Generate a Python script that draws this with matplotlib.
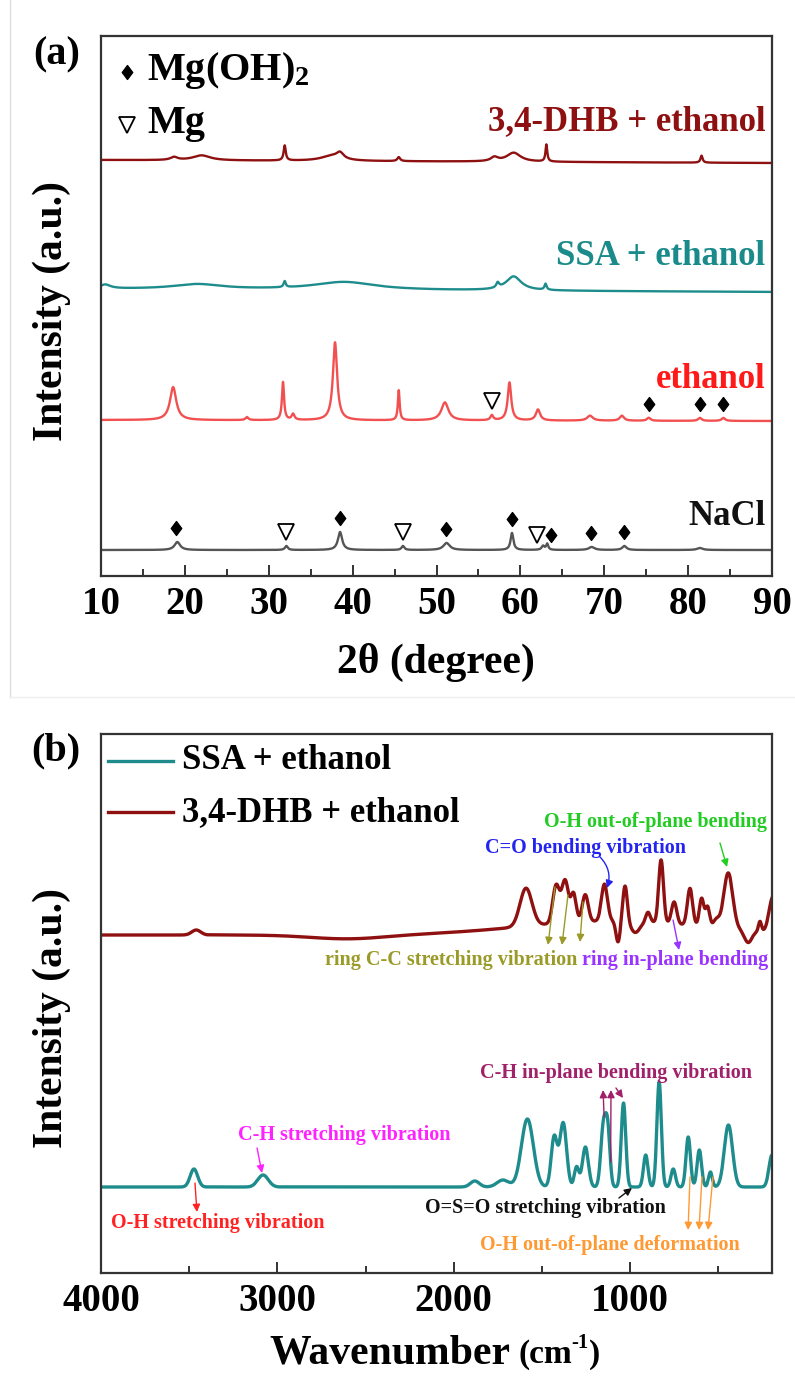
import numpy as np
import matplotlib
matplotlib.use("Agg")
import matplotlib.pyplot as plt
from matplotlib.path import Path
from matplotlib.lines import Line2D

plt.rcParams.update({
    "font.family": ["Liberation Serif", "DejaVu Serif"],
    "font.weight": "bold",
    "mathtext.fontset": "custom",
    "mathtext.rm": "Liberation Serif:bold",
    "mathtext.bf": "Liberation Serif:bold",
    "mathtext.it": "Liberation Serif:italic:bold",
})

# ---------------- XRD data: (2theta, height, FWHM) per reflection ----------------
xrd_dhb_peaks = [(18.7, 3, 1.0), (22.0, 5, 2.5), (31.9, 15, 0.3), (37.5, 5, 3.0),
                 (38.5, 6, 1.0), (45.5, 4, 0.4), (56.9, 4, 1.0), (59.2, 9, 2.0),
                 (63.1, 17, 0.25), (81.6, 7, 0.3)]
xrd_ssa_peaks = [(10.5, 4, 1.5), (21.5, 5, 7.0), (31.9, 6, 0.3), (39.0, 8, 9.0),
                 (57.3, 5, 0.4), (59.2, 14, 2.2), (63.0, 6, 0.3)]
xrd_ethanol_peaks = [(18.6, 33, 0.9), (27.4, 3, 0.4), (31.7, 38, 0.3), (32.9, 6, 0.4),
                     (37.9, 78, 0.6), (45.5, 30, 0.25), (51.0, 18, 1.0), (56.6, 5, 0.4),
                     (58.7, 38, 0.5), (62.1, 11, 0.6), (68.3, 5, 0.8), (72.1, 5, 0.6),
                     (75.3, 3, 0.5), (81.4, 3, 0.5), (84.2, 3, 0.5)]
xrd_nacl_peaks = [(19.1, 8, 0.8), (32.1, 4, 0.4), (38.5, 18, 0.6), (46.0, 4, 0.4),
                  (51.2, 7, 0.9), (59.0, 17, 0.4), (62.7, 4, 0.4), (63.2, 6, 0.3),
                  (68.5, 3, 0.8), (72.4, 4, 0.6), (81.4, 2, 0.8)]
# stacking offsets (baseline at 10 deg, baseline at 90 deg)
xrd_dhb_base = (416, 413)
xrd_ssa_base = (287, 284)
xrd_ethanol_base = (156, 155)
xrd_nacl_base = (26, 26)

# phase markers
ethanol_mgoh2 = [75.3, 81.4, 84.2]
ethanol_mg = [56.6]
nacl_mgoh2 = [19.0, 38.5, 51.1, 59.0, 63.7, 68.4, 72.3]
nacl_mg = [32.1, 46.0, 62.0]

# ---------------- FTIR data: (wavenumber, height, FWHM) per band ----------------
ftir_ssa_bands = [(3473, 18, 50), (3081, 12, 70), (1880, 6, 60), (1720, 7, 80),
                  (1582, 68, 80), (1430, 50, 40), (1379, 64, 45), (1303, 20, 30),
                  (1253, 40, 40), (1151, 60, 35), (1126, 52, 30), (1037, 84, 30),
                  (911, 32, 30), (835, 105, 30), (755, 18, 30), (670, 50, 30),
                  (607, 37, 30), (544, 15, 25), (442, 62, 55), (195, 32, 40)]
ftir_dhb_bands = [(3460, 5, 60), (2600, -4, 500), (1100, 14, 1200), (1590, 38, 80),
                  (1419, 38, 45), (1368, 42, 45), (1320, 28, 35), (1254, 27, 40),
                  (1145, 37, 40), (1068, -21, 28), (1028, 36, 30), (970, -11, 60),
                  (898, 10, 30), (824, 63, 32), (750, 22, 35), (660, 37, 35),
                  (594, 28, 30), (560, 20, 28), (510, 8, 40), (443, 56, 60),
                  (330, -12, 50), (263, 10, 20), (190, 35, 50)]
ftir_ssa_offset = 0
ftir_dhb_offset = 252

c_dhb = "#8E1010"
c_ssa = "#1E8C8C"
c_eth = "#F25050"
c_nacl = "#555555"


def lorentz_sum(x, peaks):
    y = np.zeros_like(x)
    for c, h, w in peaks:
        y += h / (1.0 + ((x - c) / (w / 2.0)) ** 2)
    return y


def gauss_sum(x, peaks):
    y = np.zeros_like(x)
    for c, h, w in peaks:
        s = w / 2.3548
        y += h * np.exp(-0.5 * ((x - c) / s) ** 2)
    return y


W, H = 795, 1394
fig = plt.figure(figsize=(W / 100, H / 100), dpi=100)


def fx(px):
    return px / W


def fy(py):
    return 1 - py / H


ax_a = fig.add_axes([fx(101), fy(576), fx(772) - fx(101), fy(36) - fy(576)])
ax_b = fig.add_axes([fx(101), fy(1273), fx(772) - fx(101), fy(734) - fy(1273)])

for ax in (ax_a, ax_b):
    for s in ax.spines.values():
        s.set_color("#333333")
        s.set_linewidth(1.6)
    ax.set_yticks([])
    ax.tick_params(axis="x", which="both", direction="in", top=False, color="#333333",
                   width=1.4, labelsize=28, pad=7)
    ax.tick_params(axis="x", which="major", length=8)
    ax.tick_params(axis="x", which="minor", length=5)

# ---------------- panel (a): XRD ----------------
tt = np.linspace(10, 90, 4001)
curves = {}
for key, peaks, base, col in [("dhb", xrd_dhb_peaks, xrd_dhb_base, c_dhb),
                              ("ssa", xrd_ssa_peaks, xrd_ssa_base, c_ssa),
                              ("eth", xrd_ethanol_peaks, xrd_ethanol_base, c_eth),
                              ("nacl", xrd_nacl_peaks, xrd_nacl_base, c_nacl)]:
    y = np.linspace(base[0], base[1], tt.size) + lorentz_sum(tt, peaks)
    curves[key] = y
    ax_a.plot(tt, y, color=col, lw=1.7)

ax_a.set_xlim(10, 90)
ax_a.set_ylim(0, 540)
ax_a.set_xticks(np.arange(10, 91, 10))
ax_a.set_xticks(np.arange(15, 90, 10), minor=True)

diamond = Path([(0, 1), (0.75, 0), (0, -1), (-0.75, 0), (0, 1)],
               [Path.MOVETO, Path.LINETO, Path.LINETO, Path.LINETO, Path.CLOSEPOLY])
gap = 14
for key, pos, mk in [("eth", ethanol_mgoh2, "d"), ("eth", ethanol_mg, "v"),
                     ("nacl", nacl_mgoh2, "d"), ("nacl", nacl_mg, "v")]:
    yy = np.interp(pos, tt, curves[key]) + gap
    if mk == "d":
        ax_a.plot(pos, yy, ls="none", marker=diamond, ms=10, color="black")
    else:
        ax_a.plot(pos, yy, ls="none", marker="v", ms=12, mfc="white", mec="black", mew=1.3)

# phase key
ax_a.plot([0.0387], [0.933], transform=ax_a.transAxes, marker=diamond, ms=10, color="black")
ax_a.text(0.0686, 0.9185, r"Mg(OH)$_2$", transform=ax_a.transAxes, fontsize=29, va="baseline")
ax_a.plot([0.0387], [0.835], transform=ax_a.transAxes, marker="v", ms=12, mfc="white",
          mec="black", mew=1.3)
ax_a.text(0.0686, 0.820, "Mg", transform=ax_a.transAxes, fontsize=29, va="baseline")

ax_a.text(89.2, 446, "3,4-DHB + ethanol", color=c_dhb, fontsize=25, ha="right", va="baseline")
ax_a.text(89.2, 311, "SSA + ethanol", color="#1A8A8A", fontsize=25, ha="right", va="baseline")
ax_a.text(89.2, 188, "ethanol", color="#FF1A1A", fontsize=25, ha="right", va="baseline")
ax_a.text(89.2, 51, "NaCl", color="#111111", fontsize=25, ha="right", va="baseline")

# ---------------- panel (b): FTIR ----------------
wn = np.linspace(195, 4000, 7611)
y_ssa = ftir_ssa_offset + gauss_sum(wn, ftir_ssa_bands)
y_dhb = ftir_dhb_offset + gauss_sum(wn, ftir_dhb_bands)
ax_b.plot(wn, y_dhb, color=c_dhb, lw=2.4)
ax_b.plot(wn, y_ssa, color=c_ssa, lw=2.4)
ax_b.set_xlim(4000, 195)
ax_b.set_ylim(-86, 453)
ax_b.set_xticks([4000, 3000, 2000, 1000])
ax_b.set_xticks([3500, 2500, 1500, 500], minor=True)

# legend
ax_b.plot([0.0104, 0.107], [0.950, 0.950], transform=ax_b.transAxes, color=c_ssa, lw=2.4)
ax_b.plot([0.0104, 0.107], [0.855, 0.855], transform=ax_b.transAxes, color=c_dhb, lw=2.4)
ax_b.text(0.1207, 0.950, "SSA + ethanol", transform=ax_b.transAxes, fontsize=25, va="center")
ax_b.text(0.1207, 0.855, "3,4-DHB + ethanol", transform=ax_b.transAxes, fontsize=25, va="center")

fs = 14.5


def note(text, xy, color, ha="center"):
    ax_b.text(xy[0], xy[1], text, color=color, fontsize=fs, ha=ha, va="center")


def arrow(tail, head, color, rad=0.0):
    ax_b.annotate("", xy=head, xytext=tail,
                  arrowprops=dict(arrowstyle="-|>", color=color, lw=1.0, mutation_scale=11,
                                  shrinkA=0, shrinkB=0, connectionstyle=f"arc3,rad={rad}"))


# 3,4-DHB band assignments
note("O-H out-of-plane bending", (223, 365), "#22CC22", ha="right")
arrow((490, 344), (450, 320), "#22CC22")
note("C=O bending vibration", (1255, 339), "#2424F0")
arrow((1170, 330), (1131, 299), "#2424F0", rad=-0.3)
note("ring C-C stretching vibration", (1301, 227), "#9A9A28", ha="right")
for t, h in [((1426, 300), (1465, 242)), ((1352, 292), (1386, 242)), ((1267, 285), (1284, 245))]:
    arrow(t, h, "#9A9A28")
note("ring in-plane bending", (218, 227), "#9933FF", ha="right")
arrow((756, 267), (722, 237), "#9933FF")

# SSA band assignments
note("C-H in-plane bending vibration", (1080, 114), "#A0206A")
for t, h in [((1147, 70), (1153, 97)), ((1110, 25), (1108, 97)), ((1080, 99), (1040, 89))]:
    arrow(t, h, "#A0206A")
note("C-H stretching vibration", (2622, 52), "#FF22FF")
arrow((3115, 39), (3087, 14), "#FF22FF")
note("O-H stretching vibration", (3337, -36), "#FF2222")
arrow((3467, 4), (3456, -25), "#FF2222")
note("O=S=O stretching vibration", (1482, -21), "#111111")
arrow((1063, -11), (989, -1), "#111111")
note("O-H out-of-plane deformation", (1114, -58), "#FF9933")
for t, h in [((660, 10), (671, -43)), ((592, 10), (609, -43)), ((530, 10), (558, -43))]:
    arrow(t, h, "#FF9933")

# axis titles and panel tags
fig.text(fx(52), fy(311), "Intensity (a.u.)", rotation=90, fontsize=30, ha="center", va="center")
fig.text(fx(52), fy(1018), "Intensity (a.u.)", rotation=90, fontsize=30, ha="center", va="center")
fig.text(fx(436), fy(673), "2θ (degree)", fontsize=30, ha="center", va="baseline")
fig.text(fx(269), fy(1363), "Wavenumber", fontsize=30, ha="left", va="baseline")
t_open = fig.text(fx(518), fy(1363), "(cm", fontsize=24, ha="left", va="baseline")
t_sup = ax_b.annotate("-1", xy=(1.0, 0.55), xycoords=t_open, fontsize=15,
                      ha="left", va="bottom", annotation_clip=False)
ax_b.annotate(")", xy=(1.0, 0.0), xycoords=(t_sup, t_open), fontsize=24,
              ha="left", va="bottom", annotation_clip=False)
fig.text(fx(57), fy(55), "(a)", fontsize=29, ha="center", va="center")
fig.text(fx(56), fy(751), "(b)", fontsize=29, ha="center", va="center")

# frame of the upper panel
fig.add_artist(Line2D([fx(10), fx(10)], [fy(0), fy(697)], color="#dddddd", lw=1.0))
fig.add_artist(Line2D([fx(10), fx(795)], [fy(697), fy(697)], color="#eeeeee", lw=1.0))

fig.savefig("out.png", dpi=100, facecolor="white")
